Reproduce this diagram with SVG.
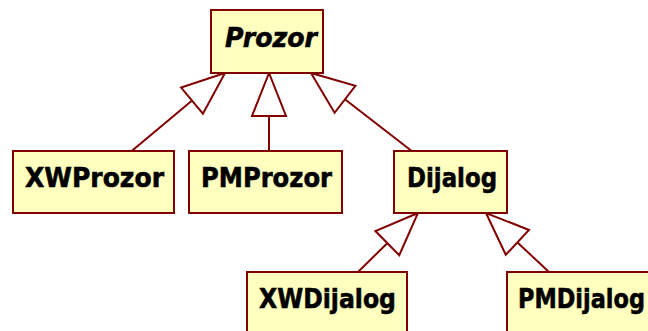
<svg xmlns="http://www.w3.org/2000/svg" width="648" height="331" viewBox="0 0 648 331">
<style>
.box{fill:#FFFFC0;stroke:#800000;stroke-width:2}
.lbl{font-family:"DejaVu Sans","Liberation Sans",sans-serif;font-weight:bold;font-size:27px;fill:#000;stroke:#000;stroke-width:0.6}
.it{font-style:italic}
.conn{fill:none;stroke:#800000;stroke-width:2;marker-end:url(#gen)}
</style>
<defs>
<marker id="gen" markerUnits="userSpaceOnUse" viewBox="-2 -2 47 38" markerWidth="47" markerHeight="38" refX="43" refY="17" orient="auto">
<path d="M43,17 L0,0 L0,34 Z" fill="#fff" stroke="#800000" stroke-width="2" stroke-linejoin="miter"/>
</marker>
</defs>
<rect width="648" height="331" fill="#fff"/>
<g id="connectors">
<path class="conn" d="M131.7,151 L225,73"/>
<path class="conn" d="M269,151 L269,73"/>
<path class="conn" d="M411.7,151 L311,73"/>
<path class="conn" d="M358,272 L418,213"/>
<path class="conn" d="M549,272 L486,213"/>
</g>
<g id="Prozor">
<rect class="box" x="211" y="10" width="112" height="63"/>
<text class="lbl it" x="225" y="47" textLength="92" lengthAdjust="spacingAndGlyphs">Prozor</text>
</g>
<g id="XWProzor">
<rect class="box" x="13" y="151" width="161" height="62"/>
<text class="lbl" x="25" y="187" textLength="139" lengthAdjust="spacingAndGlyphs">XWProzor</text>
</g>
<g id="PMProzor">
<rect class="box" x="189" y="151" width="153" height="62"/>
<text class="lbl" x="201" y="187" textLength="131" lengthAdjust="spacingAndGlyphs">PMProzor</text>
</g>
<g id="Dijalog">
<rect class="box" x="394" y="151" width="113" height="62"/>
<text class="lbl" x="407" y="187" textLength="90" lengthAdjust="spacingAndGlyphs">Dijalog</text>
</g>
<g id="XWDijalog">
<rect class="box" x="247" y="272" width="160" height="62"/>
<text class="lbl" x="259" y="308" textLength="137" lengthAdjust="spacingAndGlyphs">XWDijalog</text>
</g>
<g id="PMDijalog">
<rect class="box" x="507" y="272" width="160" height="62"/>
<text class="lbl" x="518" y="308" textLength="127" lengthAdjust="spacingAndGlyphs">PMDijalog</text>
</g>
</svg>
